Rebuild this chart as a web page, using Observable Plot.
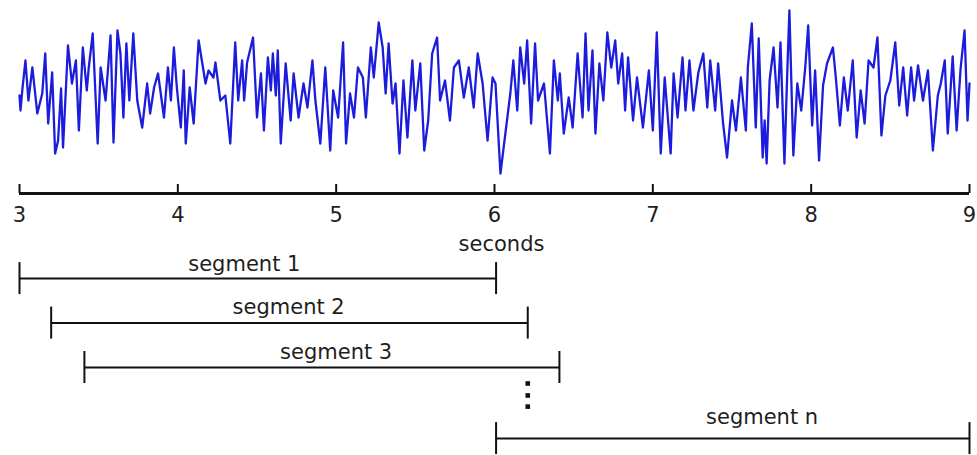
<!DOCTYPE html>
<html><head><meta charset="utf-8">
<script src="https://cdn.jsdelivr.net/npm/d3@7"></script>
<script src="https://cdn.jsdelivr.net/npm/@observablehq/plot@0.6"></script>
<style>html,body{margin:0;padding:0;background:#fff;} #chart svg{display:block;}</style>
</head><body><div id="chart"></div>
<script>
// ---- data ----
const fs = 160;          // sampling rate (Hz)
const startTime = 3;     // seconds
const sampleIdx = [0,1,3,6,9,13,18,23,26,29,33,36,39,42,44,49,53,57,60,64,68,70,74,79,82,87,92,95,99,102,105,108,111,115,119,124,129,132,136,140,146,150,153,156,159,163,166,168,172,176,181,188,191,196,198,203,208,213,218,221,225,227,230,236,240,244,247,251,254,256,259,261,264,269,274,277,282,287,291,296,299,304,309,314,317,322,327,330,334,338,342,347,350,355,358,363,367,370,373,377,380,384,388,392,397,400,405,409,413,417,422,425,430,435,439,444,449,454,459,463,468,473,478,481,486,491,496,499,503,506,510,513,517,521,524,530,536,540,544,546,550,555,559,564,569,572,575,579,582,586,590,594,598,602,605,609,612,615,620,624,630,636,640,644,648,652,658,661,665,670,673,677,681,686,691,695,698,703,706,711,715,720,724,729,734,736,740,744,747,751,753,755,758,762,766,769,773,776,778,782,786,790,794,797,801,804,808,812,816,822,825,829,833,837,842,846,850,854,858,863,867,871,875,880,885,889,893,897,901,904,908,913,918,923,928,931,935,938,943,947,951,955,958,960];
const amplitude = [-3,-18,4,32,-8,25,-21,-1,39,-31,20,-61,-48,4,-55,47,9,32,-38,45,2,25,59,-51,25,-8,57,-50,62,39,-25,49,-8,59,-8,-35,9,-21,5,19,-25,25,-8,45,5,-35,22,-51,5,-31,52,9,22,15,30,-8,-3,-51,50,-8,32,-8,30,55,-25,19,-38,35,2,39,-3,42,-51,29,-28,19,-25,9,-15,32,-8,-51,25,-58,2,-25,50,-51,-1,-25,25,15,-25,45,15,70,45,-1,49,-11,9,-61,12,-45,32,-18,29,-58,-28,39,55,-8,12,-28,25,32,-5,25,-15,39,9,-48,15,9,-81,-41,-1,32,-18,45,9,52,-31,49,-8,9,-61,32,-8,19,-41,-5,-35,39,-25,59,-18,42,-41,29,-8,60,25,52,9,39,-18,35,-28,15,-35,22,-38,60,-61,15,-61,19,-25,35,-18,32,-18,20,39,-15,32,-18,29,-31,-65,-8,-38,15,-38,25,69,-35,54,-65,-28,-71,12,45,-15,50,-71,25,82,-63,9,-18,25,67,-33,22,-68,7,29,45,14,-33,15,-18,32,-45,2,-31,32,25,55,-43,-3,12,50,-13,25,-23,25,-8,27,-8,22,-58,-3,9,32,-41,36,-38,24,62,-28,9];
const tickValues = [3,4,5,6,7,8,9];
const axisLabel = "seconds";
const segmentNames = ["segment 1","segment 2","segment 3","segment n"];
const segmentStart = [3, 3.2, 3.41, 6.01];
const segmentEnd   = [6.01, 6.21, 6.41, 9];
const segmentRow   = [1, 2, 3, 4.6];
const labelAt      = [4.42, 4.70, 5.00, 7.69];
const labelRow     = [0.82, 1.79, 2.80, 4.28];
const ellipsisAt   = 6.21;
const ellipsisRows = [3.36, 3.63, 3.88];

// ---- rendering ----
const W = 977;
const font = {fontFamily: "DejaVu Sans", fontSize: "21px", color: "#1e1e1e", background: "#fff", overflow: "visible"};
const nSamples = Math.min(sampleIdx.length, amplitude.length);
const idx = d3.range(nSamples);
const ampDomain = [-101, 92];

const signalPlot = Plot.plot({
  width: W, height: 255,
  marginLeft: 19, marginRight: 8, marginTop: 0, marginBottom: 62,
  style: font,
  x: {domain: [startTime, 9]},
  y: {domain: ampDomain, axis: null},
  marks: [
    Plot.line(idx, {x: i => startTime + sampleIdx[i] / fs, y: i => amplitude[i], stroke: "#1c1cdc", strokeWidth: 2.3, strokeLinejoin: "round"}),
    Plot.ruleY([ampDomain[0]], {stroke: "#111", strokeWidth: 3}),
    Plot.ruleX(tickValues, {stroke: "#111", strokeWidth: 2, insetTop: 184}),
    Plot.axisX(tickValues, {tickSize: 0, tickPadding: 14, tickFormat: d => String(d), label: null, fontSize: 21, fill: "#1e1e1e"}),
    Plot.text([axisLabel], {frameAnchor: "bottom", dy: 57, dx: 7, lineAnchor: "bottom", fontSize: 21, fill: "#1e1e1e"})
  ]
});

const segIdx = d3.range(segmentNames.length);
const half = 0.36;
const segmentPlot = Plot.plot({
  width: W, height: 200,
  marginLeft: 19, marginRight: 8, marginTop: 0, marginBottom: 0,
  style: font,
  x: {domain: [startTime, 9], axis: null},
  y: {domain: [0.48, 4.98], range: [0, 200], axis: null},
  marks: [
    Plot.ruleY(segIdx, {y: i => segmentRow[i], x1: i => segmentStart[i], x2: i => segmentEnd[i], stroke: "#111", strokeWidth: 2}),
    Plot.ruleX(segIdx, {x: i => segmentStart[i], y1: i => segmentRow[i] - half, y2: i => segmentRow[i] + half, stroke: "#111", strokeWidth: 2}),
    Plot.ruleX(segIdx, {x: i => segmentEnd[i], y1: i => segmentRow[i] - half, y2: i => segmentRow[i] + half, stroke: "#111", strokeWidth: 2}),
    Plot.text(segIdx, {x: i => labelAt[i], y: i => labelRow[i], text: i => segmentNames[i], lineAnchor: "bottom", fontSize: 21, fill: "#1e1e1e"}),
    Plot.dot(ellipsisRows, {x: () => ellipsisAt, y: d => d, symbol: "square", r: 2.6, fill: "#111", stroke: "none"})
  ]
});

const el = document.getElementById("chart");
el.appendChild(signalPlot);
el.appendChild(segmentPlot);
</script>
</body></html>
